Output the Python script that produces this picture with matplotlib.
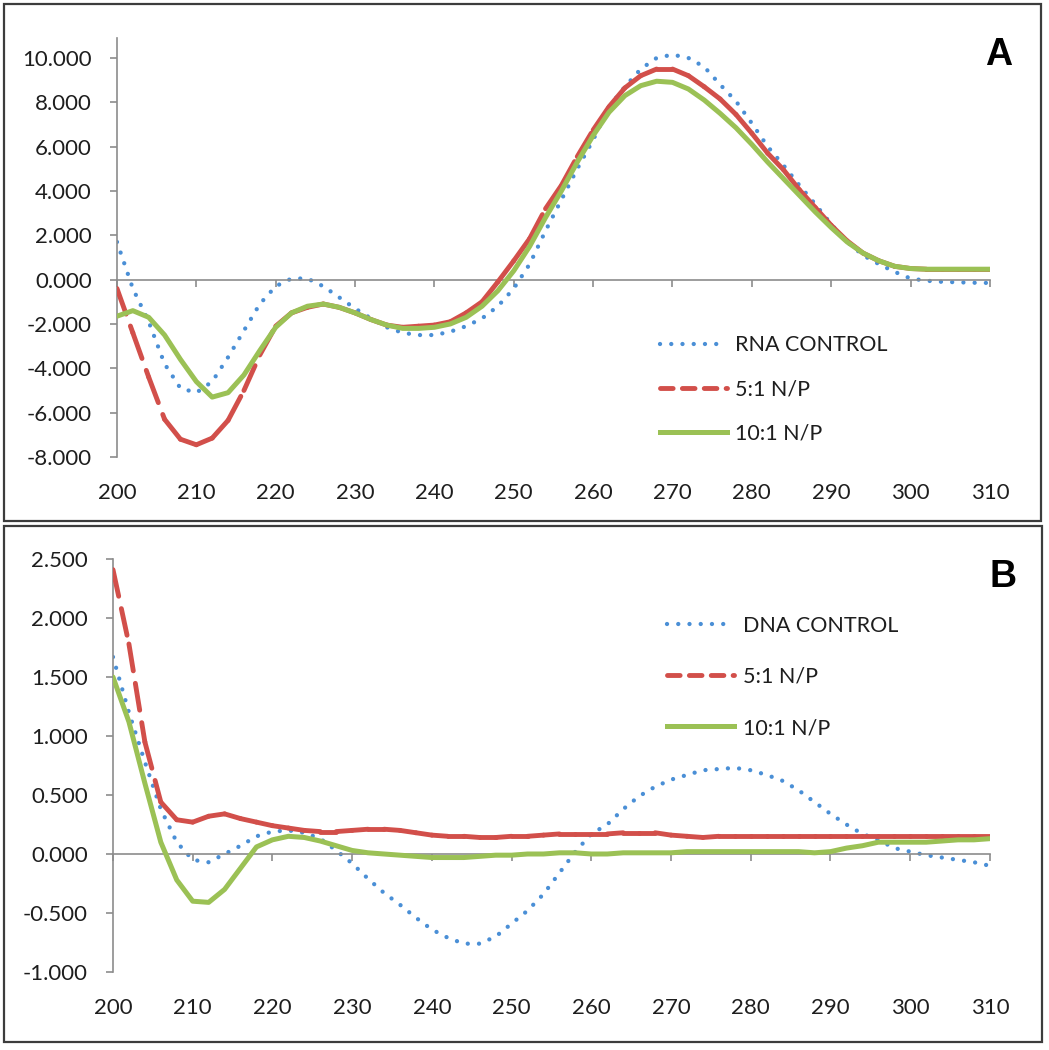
import numpy as np
import matplotlib
matplotlib.use("Agg")
from matplotlib import pyplot as plt
from matplotlib.collections import LineCollection
from matplotlib.lines import Line2D
from matplotlib.patches import Rectangle

plt.rcParams['font.family'] = ['Lato', 'DejaVu Sans']

# wavelength grid (nm), read every 2 nm
wl = list(range(200, 311, 2))

# panel A: RNA
rna_control = [1.7, -0.4, -1.9, -3.8, -4.9, -5.1, -4.6, -3.5, -2.3, -1.1,
               -0.3, 0.05, 0.05, -0.3, -0.8, -1.3, -1.75, -2.15, -2.4, -2.5,
               -2.5, -2.35, -2.1, -1.75, -1.2, -0.4, 0.7, 2.2, 3.6, 5.0,
               6.3, 7.8, 8.7, 9.5, 10.0, 10.15, 10.0, 9.6, 8.8, 8.05,
               7.05, 6.0, 5.15, 4.25, 3.4, 2.5, 1.7, 1.1, 0.7, 0.35,
               0.05, -0.05, -0.1, -0.12, -0.14, -0.15]
rna_5to1 = [-0.4, -2.4, -4.4, -6.3, -7.2, -7.45, -7.15, -6.35, -5.0, -3.4,
            -2.1, -1.5, -1.25, -1.1, -1.25, -1.5, -1.8, -2.05, -2.15, -2.1,
            -2.05, -1.9, -1.5, -1.0, -0.1, 0.85, 1.85, 3.2, 4.25, 5.55,
            6.75, 7.8, 8.65, 9.2, 9.5, 9.5, 9.2, 8.7, 8.15, 7.45,
            6.6, 5.7, 4.95, 4.05, 3.25, 2.45, 1.75, 1.2, 0.85, 0.6,
            0.5, 0.47, 0.47, 0.47, 0.47, 0.47]
rna_10to1 = [-1.65, -1.4, -1.7, -2.5, -3.6, -4.6, -5.3, -5.1, -4.3, -3.2,
             -2.15, -1.5, -1.2, -1.1, -1.25, -1.5, -1.8, -2.05, -2.2, -2.2,
             -2.15, -2.0, -1.7, -1.2, -0.5, 0.4, 1.5, 2.8, 4.0, 5.3,
             6.5, 7.55, 8.3, 8.75, 8.95, 8.9, 8.6, 8.1, 7.5, 6.85,
             6.1, 5.3, 4.55, 3.8, 3.05, 2.35, 1.7, 1.2, 0.85, 0.6,
             0.5, 0.47, 0.47, 0.47, 0.47, 0.47]

# panel B: DNA
dna_control = [1.67, 1.2, 0.78, 0.38, 0.1, -0.05, -0.07, 0.0, 0.07, 0.15,
               0.19, 0.2, 0.18, 0.13, 0.03, -0.08, -0.21, -0.33, -0.43, -0.54,
               -0.64, -0.71, -0.76, -0.76, -0.7, -0.59, -0.48, -0.34, -0.16, 0.02,
               0.17, 0.25, 0.38, 0.49, 0.57, 0.63, 0.67, 0.71, 0.72, 0.73,
               0.71, 0.67, 0.62, 0.54, 0.44, 0.34, 0.25, 0.17, 0.12, 0.05,
               0.02, -0.01, -0.03, -0.05, -0.07, -0.1]
dna_5to1 = [2.41, 1.78, 0.95, 0.44, 0.29, 0.27, 0.32, 0.34, 0.3, 0.27,
            0.24, 0.22, 0.2, 0.19, 0.19, 0.2, 0.21, 0.21, 0.2, 0.18,
            0.16, 0.15, 0.15, 0.14, 0.14, 0.15, 0.15, 0.16, 0.17, 0.17,
            0.17, 0.17, 0.18, 0.18, 0.18, 0.16, 0.15, 0.14, 0.15, 0.15,
            0.15, 0.15, 0.15, 0.15, 0.15, 0.15, 0.15, 0.15, 0.15, 0.15,
            0.15, 0.15, 0.15, 0.15, 0.15, 0.15]
dna_10to1 = [1.5, 1.12, 0.6, 0.1, -0.22, -0.4, -0.41, -0.3, -0.12, 0.06,
             0.12, 0.15, 0.14, 0.11, 0.07, 0.03, 0.01, 0.0, -0.01, -0.02,
             -0.03, -0.03, -0.03, -0.02, -0.01, -0.01, 0.0, 0.0, 0.01, 0.01,
             0.0, 0.0, 0.01, 0.01, 0.01, 0.01, 0.02, 0.02, 0.02, 0.02,
             0.02, 0.02, 0.02, 0.02, 0.01, 0.02, 0.05, 0.07, 0.1, 0.1,
             0.1, 0.1, 0.11, 0.12, 0.12, 0.13]

x_ticks = list(range(200, 311, 10))
a_yticks = [-8, -6, -4, -2, 0, 2, 4, 6, 8, 10]
b_yticks = [-1.0, -0.5, 0.0, 0.5, 1.0, 1.5, 2.0, 2.5]
a_labels = ["RNA CONTROL", "5:1 N/P", "10:1 N/P"]
b_labels = ["DNA CONTROL", "5:1 N/P", "10:1 N/P"]

BLUE = '#4a8fd6'
RED = '#d24f4a'
GREEN = '#9bc155'
AXC = '#8c8c8c'
TXT = '#1e1e1e'


def dashed_segments(ax, x, y):
    # Excel restarts the dash pattern on every segment
    pts = np.column_stack([x, y])
    segs = np.stack([pts[:-1], pts[1:]], axis=1)
    lc = LineCollection(segs, colors=RED, linewidths=3.5,
                        linestyles=[(0, (5.6, 2.6))], capstyle='round', zorder=3)
    ax.add_collection(lc)


def panel(ax, ctrl, r5, r10, ylim, yticks, labels, leg_anchor, spacing):
    ax.plot(wl, ctrl, color=BLUE, lw=3.1, linestyle=(0, (0.01, 2.6)),
            dash_capstyle='round', zorder=2)
    dashed_segments(ax, wl, r5)
    ax.plot(wl, r10, color=GREEN, lw=3.6, solid_capstyle='round', zorder=4)

    ax.set_xlim(200, 310)
    ax.set_ylim(*ylim)
    ax.set_yticks(yticks)
    ax.set_yticklabels(["%.3f" % v for v in yticks])
    ax.set_xticks(x_ticks)

    for s in ['top', 'right']:
        ax.spines[s].set_visible(False)
    ax.spines['left'].set_color(AXC)
    ax.spines['left'].set_linewidth(1.2)
    ax.spines['bottom'].set_position(('data', 0))
    ax.spines['bottom'].set_color(AXC)
    ax.spines['bottom'].set_linewidth(1.2)
    ax.tick_params(axis='y', direction='out', length=5, width=1.2, color=AXC,
                   labelsize=16, labelcolor=TXT, pad=13)
    ax.tick_params(axis='x', direction='out', length=5, width=1.2, color=AXC,
                   labelbottom=False)

    sec = ax.secondary_xaxis('bottom')
    sec.set_xticks(x_ticks)
    sec.spines['bottom'].set_visible(False)
    sec.tick_params(axis='x', length=0, labelsize=16, labelcolor=TXT, pad=19)

    handles = [
        Line2D([], [], color=BLUE, lw=3.1, linestyle=(0, (0.01, 2.6)), dash_capstyle='round'),
        Line2D([], [], color=RED, lw=3.5, linestyle=(0, (2.6, 1.9)), dash_capstyle='round'),
        Line2D([], [], color=GREEN, lw=3.6),
    ]
    leg = ax.legend(handles, labels, loc='upper left', bbox_to_anchor=leg_anchor,
                    frameon=False, fontsize=15.5, handlelength=3.1, handletextpad=0.4,
                    labelspacing=spacing, borderpad=0, borderaxespad=0)
    for t in leg.get_texts():
        t.set_color(TXT)


fig = plt.figure(figsize=(10.49, 10.5), dpi=100)

ax_a = fig.add_axes([0.1115, 0.5648, 0.8322, 0.399])
panel(ax_a, rna_control, rna_5to1, rna_10to1, (-8, 10.9), a_yticks, a_labels,
      (0.622, 0.29), 1.12)

ax_b = fig.add_axes([0.1077, 0.0743, 0.836, 0.3933])
panel(ax_b, dna_control, dna_5to1, dna_10to1, (-1.0, 2.5), b_yticks, b_labels,
      (0.632, 0.863), 1.45)

# panel frames
fig.add_artist(Rectangle((0.004, 0.504), 0.988, 0.4925, transform=fig.transFigure,
                         fill=False, ec='#3c3c3c', lw=1.6))
fig.add_artist(Rectangle((0.004, 0.0076), 0.989, 0.4914, transform=fig.transFigure,
                         fill=False, ec='#3c3c3c', lw=1.6))

fig.text(999 / 1049, 1 - 55 / 1050, "A", ha='center', va='center', fontsize=27,
         fontweight='bold', family=['Liberation Sans', 'DejaVu Sans'])
fig.text(1003 / 1049, 1 - 577 / 1050, "B", ha='center', va='center', fontsize=27,
         fontweight='bold', family=['Liberation Sans', 'DejaVu Sans'])

fig.savefig("out.png", dpi=100)
